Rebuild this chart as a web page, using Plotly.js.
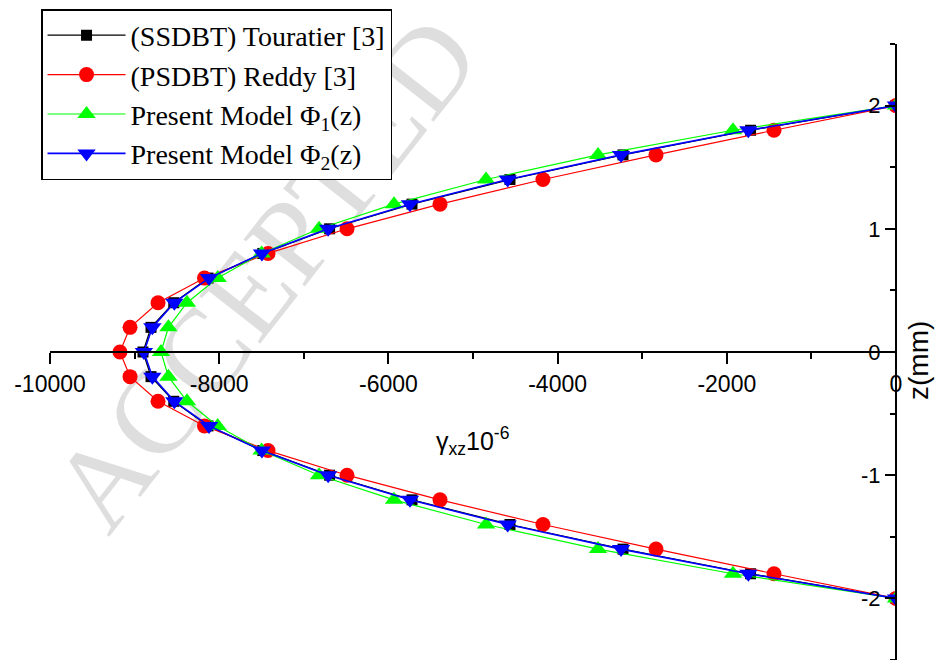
<!DOCTYPE html>
<html>
<head>
<meta charset="utf-8">
<script src="https://cdn.plot.ly/plotly-3.0.1.min.js"></script>
<style>html,body{margin:0;padding:0;background:#fff;}#chart{width:943px;height:660px;}</style>
</head>
<body>
<div id="chart"></div>
<script>
// z positions through the thickness (mm)
const zValues = [2, 1.8, 1.6, 1.4, 1.2, 1.0, 0.8, 0.6, 0.4, 0.2, 0, -0.2, -0.4, -0.6, -0.8, -1.0, -1.2, -1.4, -1.6, -1.8, -2];
// gamma_xz x 10^-6
const ssdbtTouratier = [0, -1719, -3227, -4563, -5721, -6695, -7485, -8132, -8537, -8806, -8901, -8806, -8537, -8132, -7485, -6695, -5721, -4563, -3227, -1719, 0];
const psdbtReddy = [0, -1442, -2837, -4173, -5390, -6489, -7423, -8174, -8723, -9054, -9173, -9054, -8723, -8174, -7423, -6489, -5390, -4173, -2837, -1442, 0];
const presentPhi1 = [0, -1927, -3522, -4846, -5934, -6820, -7499, -8018, -8381, -8600, -8688, -8600, -8381, -8018, -7499, -6820, -5934, -4846, -3522, -1927, 0];
const presentPhi2 = [0, -1745, -3250, -4590, -5745, -6712, -7495, -8120, -8530, -8790, -8890, -8790, -8530, -8120, -7495, -6712, -5745, -4590, -3250, -1745, 0];

const seriesNames = ['(SSDBT) Touratier [3]', '(PSDBT) Reddy [3]', 'Present Model Φ<sub>1</sub>(z)', 'Present Model Φ<sub>2</sub>(z)'];
const xTickVals = [-10000, -8000, -6000, -4000, -2000, 0];
const xTickText = ['-10000', '-8000', '-6000', '-4000', '-2000', '0'];
const yTickVals = [-2, -1, 0, 1, 2];
const yTickText = ['-2', '-1', '0', '1', '2'];

function tr(x, name, color, symbol, size, lw) {
  return {
    x: x, y: zValues, name: name, type: 'scatter', mode: 'lines+markers',
    line: {color: color, width: lw},
    marker: {color: color, symbol: symbol, size: size, line: {width: 0}}
  };
}

const data = [
  tr(ssdbtTouratier, seriesNames[0], '#000000', 'square', 11, 1.2),
  tr(psdbtReddy, seriesNames[1], '#ff0000', 'circle', 15, 1.2),
  tr(presentPhi1, seriesNames[2], '#00ff00', 'triangle-up', 16, 1.2),
  tr(presentPhi2, seriesNames[3], '#0000ff', 'triangle-down', 16, 1.6)
];

const layout = {
  width: 943, height: 660,
  margin: {l: 50, r: 47, t: 44, b: 0, pad: 0},
  paper_bgcolor: '#ffffff', plot_bgcolor: '#ffffff',
  showlegend: true,
  legend: {
    xref: 'paper', yref: 'paper',
    x: -0.0106, y: 1.0568, xanchor: 'left', yanchor: 'top',
    bgcolor: '#ffffff', bordercolor: '#000000', borderwidth: 1.5,
    font: {family: 'Liberation Serif', size: 28, color: '#000000'},
    itemwidth: 78, tracegroupgap: 0
  },
  xaxis: {
    range: [-10000, 0], anchor: 'free', position: 0.5,
    showline: true, linecolor: '#000000', linewidth: 2,
    showgrid: false, zeroline: false, automargin: false,
    ticks: 'outside', ticklen: 11, tickwidth: 2, tickcolor: '#000000',
    tickmode: 'array', tickvals: xTickVals, ticktext: xTickText,
    tickfont: {family: 'Liberation Sans', size: 23, color: '#000000'},
    minor: {dtick: 1000, tick0: 0, ticks: 'outside', ticklen: 6, tickwidth: 2, tickcolor: '#000000', showgrid: false}
  },
  yaxis: {
    range: [-2.5, 2.5], anchor: 'free', position: 1, side: 'left',
    showline: true, linecolor: '#000000', linewidth: 2,
    showgrid: false, zeroline: false, automargin: false,
    ticks: 'outside', ticklen: 10, tickwidth: 2, tickcolor: '#000000',
    tickmode: 'array', tickvals: yTickVals, ticktext: yTickText,
    tickfont: {family: 'Liberation Sans', size: 22, color: '#000000'},
    minor: {dtick: 0.5, tick0: 0, ticks: 'outside', ticklen: 5, tickwidth: 2, tickcolor: '#000000', showgrid: false}
  },
  shapes: [
    {type: 'line', layer: 'below', xref: 'paper', yref: 'paper',
     x0: 0.0095, y0: 0.232, x1: 0.475, y1: 1.05,
     line: {color: 'rgba(0,0,0,0)', width: 0},
     label: {text: 'ACCEPTED', textangle: 'auto', textposition: 'middle', yanchor: 'middle',
             font: {family: 'Liberation Serif', size: 118, color: 'rgba(0,0,0,0.13)'}}}
  ],
  annotations: [
    {text: 'γ<sub>xz</sub>10<sup>-6</sup>', xref: 'paper', yref: 'paper', x: 0.499, y: 0.355, xanchor: 'center', yanchor: 'middle', showarrow: false,
     font: {family: 'Liberation Sans', size: 25, color: '#000000'}},
    {text: 'z(mm)', xref: 'paper', yref: 'paper', x: 1.026, y: 0.487, xanchor: 'center', yanchor: 'middle', showarrow: false,
     textangle: -90, font: {family: 'Liberation Sans', size: 28, color: '#000000'}}
  ]
};

Plotly.newPlot('chart', data, layout, {displayModeBar: false, staticPlot: true});
</script>
</body>
</html>
